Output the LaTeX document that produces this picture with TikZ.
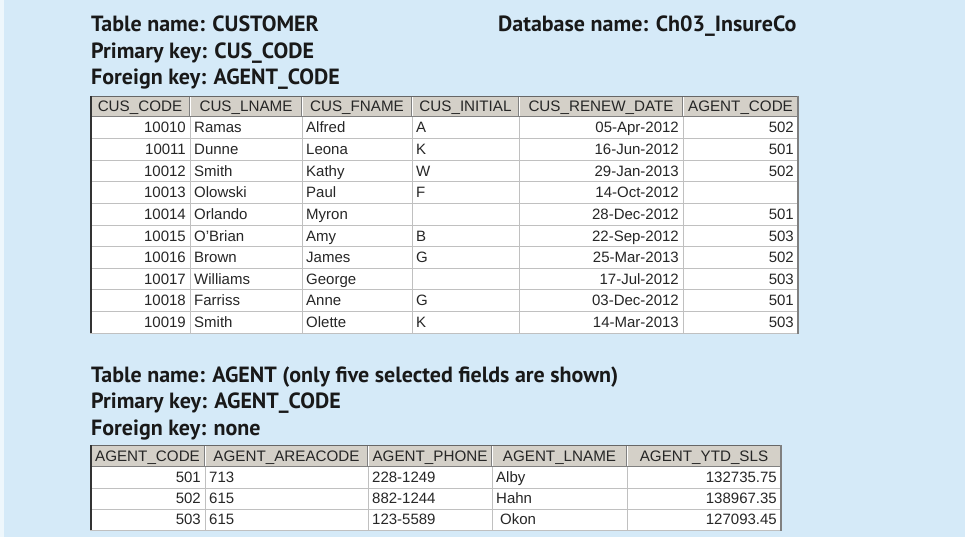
\documentclass[tikz,border=0pt]{standalone}
\usepackage{fontspec}
\setmainfont{Liberation Sans}
\newfontfamily\ttlfont{PT Sans}
\definecolor{bgblue}{RGB}{213,234,248}
\definecolor{hdrgray}{RGB}{212,208,200}
\definecolor{gridgray}{RGB}{192,192,192}
\definecolor{sepgray}{RGB}{128,128,128}
\definecolor{ttlcol}{RGB}{25,25,25}
\newcommand\cellfont{\fontsize{15}{18}\selectfont}
\newcommand\hdrfont{\fontsize{15.2}{18}\selectfont}
\newcommand\titlefnt{\ttlfont\bfseries\fontsize{22}{26}\selectfont}
\tikzset{
  cellR/.style={anchor=base east, inner sep=0pt, font=\cellfont, text=black!85},
  cellL/.style={anchor=base west, inner sep=0pt, font=\cellfont, text=black!85},
  hdr/.style={anchor=base, inner sep=0pt, font=\hdrfont, text=black!85},
  ttl/.style={anchor=base west, inner sep=0pt, font=\titlefnt, text=ttlcol},
  gridline/.style={draw=gridgray, line width=0.8pt},
  hdrsep/.style={draw=sepgray, line width=1pt},
}
% customer row: #1 index (0..9), then 6 values
\newcommand\crow[7]{%
  \pgfmathsetmacro\yb{117+#1*21.6+16}%
  \node[cellR] (c#1a) at (186,\yb) {#2};
  \node[cellL] (c#1b) at (194,\yb) {#3};
  \node[cellL] (c#1c) at (306,\yb) {#4};
  \node[cellL] (c#1d) at (416,\yb) {#5};
  \node[cellR] (c#1e) at (679,\yb) {#6};
  \node[cellR] (c#1f) at (794,\yb) {#7};
}
\newcommand\arow[6]{%
  \pgfmathsetmacro\yb{467+#1*21+15.5}%
  \node[cellR] (a#1a) at (201,\yb) {#2};
  \node[cellL] (a#1b) at (209,\yb) {#3};
  \node[cellL] (a#1c) at (372,\yb) {#4};
  \node[cellL] (a#1d) at (496,\yb) {#5};
  \node[cellR] (a#1e) at (777,\yb) {#6};
}
\begin{document}
\begin{tikzpicture}[x=1pt,y=-1pt]
\useasboundingbox (0,0) rectangle (965,537);
\fill[bgblue] (0,0) rectangle (965,537);
\fill[bgblue!40!white] (0,0) rectangle (4,537);

% ---------- titles ----------
\node[ttl] (t1) at (91,32) {Table name: CUSTOMER};
\node[ttl] (t2) at (91,58.5) {Primary key: CUS\_CODE};
\node[ttl] (t3) at (91,85) {Foreign key: AGENT\_CODE};
\node[ttl] (t4) at (498,32) {Database name: Ch03\_InsureCo};

% ---------- CUSTOMER table ----------
\fill[white] (90,117) rectangle (798,333);
\fill[hdrgray] (90,96) rectangle (798,117);
\foreach \i in {1,...,9} \draw[gridline] (90,117+\i*21.6) -- (798,117+\i*21.6);
\draw[gridline] (90,333) -- (798,333);
\foreach \x in {190,302,412,519,683} {
  \draw[gridline] (\x,117) -- (\x,333);
  \draw[hdrsep] (\x-0.5,97) -- (\x-0.5,116);
  \draw[white, line width=1pt] (\x+0.5,97) -- (\x+0.5,116);
}
\draw[sepgray, line width=1pt] (90,116.5) -- (798,116.5);
\draw[sepgray!80!black, line width=1pt] (90,96.5) -- (798,96.5);
\draw[black!80, line width=1.6pt] (90.8,96) -- (90.8,333);
\draw[sepgray, line width=2pt] (798,96) -- (798,334);

\node[hdr] (ch1) at (140,112) {CUS\_CODE};
\node[hdr] (ch2) at (246,112) {CUS\_LNAME};
\node[hdr] (ch3) at (357,112) {CUS\_FNAME};
\node[hdr] (ch4) at (465.5,112) {CUS\_INITIAL};
\node[hdr] (ch5) at (601,112) {CUS\_RENEW\_DATE};
\node[hdr] (ch6) at (740.5,112) {AGENT\_CODE};

\crow{0}{10010}{Ramas}{Alfred}{A}{05-Apr-2012}{502}
\crow{1}{10011}{Dunne}{Leona}{K}{16-Jun-2012}{501}
\crow{2}{10012}{Smith}{Kathy}{W}{29-Jan-2013}{502}
\crow{3}{10013}{Olowski}{Paul}{F}{14-Oct-2012}{}
\crow{4}{10014}{Orlando}{Myron}{}{28-Dec-2012}{501}
\crow{5}{10015}{O'Brian}{Amy}{B}{22-Sep-2012}{503}
\crow{6}{10016}{Brown}{James}{G}{25-Mar-2013}{502}
\crow{7}{10017}{Williams}{George}{}{17-Jul-2012}{503}
\crow{8}{10018}{Farriss}{Anne}{G}{03-Dec-2012}{501}
\crow{9}{10019}{Smith}{Olette}{K}{14-Mar-2013}{503}

% ---------- AGENT titles ----------
\node[ttl] (t5) at (91,382) {Table name: AGENT (only five selected fields are shown)};
\node[ttl] (t6) at (91,408.5) {Primary key: AGENT\_CODE};
\node[ttl] (t7) at (91,435) {Foreign key: none};

% ---------- AGENT table ----------
\fill[white] (90,467) rectangle (781,530);
\fill[hdrgray] (90,445) rectangle (781,467);
\foreach \i in {1,2} \draw[gridline] (90,467+\i*21) -- (781,467+\i*21);
\draw[gridline] (90,530) -- (781,530);
\foreach \x in {205,368,492,627} {
  \draw[gridline] (\x,467) -- (\x,530);
  \draw[hdrsep] (\x-0.5,446) -- (\x-0.5,466);
  \draw[white, line width=1pt] (\x+0.5,446) -- (\x+0.5,466);
}
\draw[sepgray, line width=1pt] (90,466.5) -- (781,466.5);
\draw[sepgray!80!black, line width=1pt] (90,445.5) -- (781,445.5);
\draw[black!80, line width=1.6pt] (90.8,445) -- (90.8,530);
\draw[sepgray, line width=2pt] (781,445) -- (781,531);

\node[hdr] (ah1) at (147.5,461.5) {AGENT\_CODE};
\node[hdr] (ah2) at (286.5,461.5) {AGENT\_AREACODE};
\node[hdr] (ah3) at (430,461.5) {AGENT\_PHONE};
\node[hdr] (ah4) at (559.5,461.5) {AGENT\_LNAME};
\node[hdr] (ah5) at (704,461.5) {AGENT\_YTD\_SLS};

\arow{0}{501}{713}{228-1249}{Alby}{132735.75}
\arow{1}{502}{615}{882-1244}{Hahn}{138967.35}
\arow{2}{503}{615}{123-5589}{\hspace{4pt}Okon}{127093.45}
\end{tikzpicture}
\end{document}
